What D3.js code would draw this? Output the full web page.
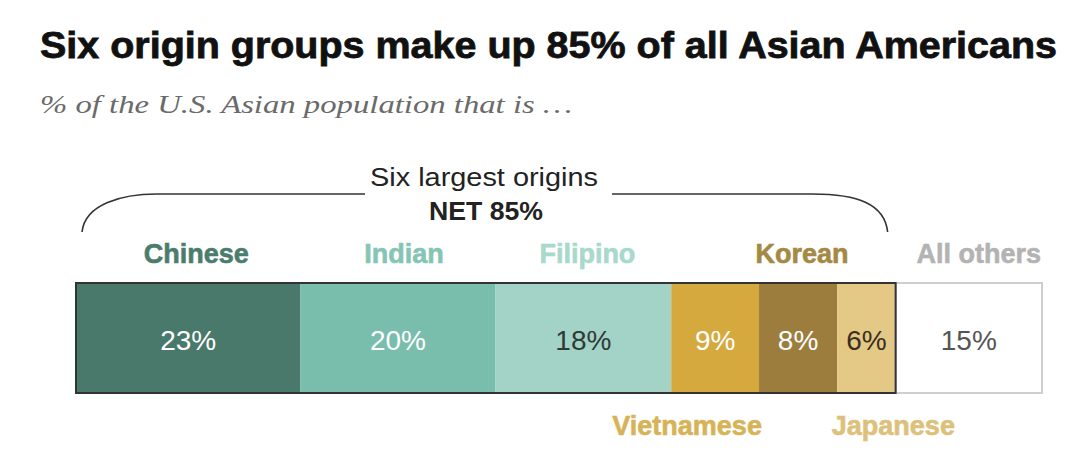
<!DOCTYPE html>
<html><head><meta charset="utf-8">
<script src="https://cdn.jsdelivr.net/npm/d3@7"></script>
<style>
html,body{margin:0;padding:0;background:#fff;}
svg{display:block;}
</style></head>
<body>
<svg id="chart" width="1080" height="469"></svg>
<script>
const categories = ["Chinese","Indian","Filipino","Vietnamese","Korean","Japanese","All others"];
const values = [23,20,18,9,8,6,15];
const labelPositions = ["top","top","top","bottom","top","bottom","top"];
const fills = ["#48796b","#79bdad","#a3d3c7","#d5a93e","#9c7d3d","#e3c886","#ffffff"];
const labelColors = ["#4b7c6d","#86c5b5","#a9d8cc","#d7b357","#a48943","#ddc17b","#b3b3b3"];
const valueColors = ["#ffffff","#ffffff","#2f3a36","#ffffff","#ffffff","#3a2f1c","#555555"];
const netLabel = "NET 85%";
const bracketLabel = "Six largest origins";
const title = "Six origin groups make up 85% of all Asian Americans";
const subtitle = "% of the U.S. Asian population that is \u2026";

const svg = d3.select("#chart");
const sans = "'Liberation Sans','Arial',sans-serif";

// title
svg.append("text").attr("x",40).attr("y",58)
  .style("font-family",sans).style("font-weight","bold").style("font-size","37px")
  .attr("fill","#111").attr("stroke","#111").attr("stroke-width",0.8).text(title)
  .attr("textLength",1017).attr("lengthAdjust","spacingAndGlyphs");

svg.append("text").attr("x",40).attr("y",113)
  .style("font-family","'Liberation Serif','DejaVu Serif',Georgia,serif").style("font-style","italic")
  .style("font-size","26px").attr("fill","#6a6a6a").text(subtitle)
  .attr("textLength",532).attr("lengthAdjust","spacingAndGlyphs");

const total = d3.sum(values);
const x = d3.scaleLinear().domain([0,total]).range([76,1042]);
const y0 = 283, y1 = 393;
const cum = d3.cumsum(values);
const data = categories.map((c,i)=>({cat:c,v:values[i],start:cum[i]-values[i],end:cum[i],i}));

// bars
svg.selectAll("rect.seg").data(data).join("rect").attr("class","seg")
  .attr("x",d=>x(d.start)).attr("y",y0)
  .attr("width",d=>x(d.end)-x(d.start)).attr("height",y1-y0)
  .attr("fill",(d)=>fills[d.i])
  .attr("stroke",d=>d.i===6?"#cfcfcf":"none").attr("stroke-width",2);

// outline of six groups
const sixEnd = cum[5];
svg.append("rect").attr("x",x(0)).attr("y",y0).attr("width",x(sixEnd)-x(0)).attr("height",y1-y0)
  .attr("fill","none").attr("stroke","#333").attr("stroke-width",2);

// value labels
svg.selectAll("text.val").data(data).join("text").attr("class","val")
  .attr("x",d=>(x(d.start)+x(d.end))/2).attr("y",350)
  .attr("text-anchor","middle")
  .style("font-family",sans).style("font-size","28px")
  .attr("fill",d=>valueColors[d.i]).text(d=>d.v+"%");

// category labels (hand-placed offsets from segment centre, as in the original)
const labelDx = {"Chinese":8,"Indian":6,"Filipino":4,"Vietnamese":-28,"Korean":4,"Japanese":27,"All others":10};
svg.selectAll("text.cat").data(data).join("text").attr("class","cat")
  .attr("x",d=>(x(d.start)+x(d.end))/2 + labelDx[d.cat])
  .attr("y",d=>labelPositions[d.i]==="top"?263:435)
  .attr("text-anchor","middle")
  .style("font-family",sans).style("font-weight","bold").style("font-size","27px")
  .attr("stroke",d=>labelColors[d.i]).attr("stroke-width",0.6)
  .attr("fill",d=>labelColors[d.i]).text(d=>d.cat);

// bracket
const bx0 = x(0)+6, bx1 = x(sixEnd)-8, by = 194, bBottom = 232;
const mid = 484;
svg.append("text").attr("x",mid).attr("y",186).attr("text-anchor","middle")
  .style("font-family",sans).style("font-size","26px").attr("fill","#222").text(bracketLabel)
  .attr("textLength",228).attr("lengthAdjust","spacingAndGlyphs");
svg.append("text").attr("x",mid+2).attr("y",220).attr("text-anchor","middle")
  .style("font-family",sans).style("font-weight","bold").style("font-size","25px").attr("fill","#222").text(netLabel)
  .attr("textLength",114).attr("lengthAdjust","spacingAndGlyphs");
const gapL = 365, gapR = 612;
const pL = d3.path();
pL.moveTo(bx0,bBottom);
pL.bezierCurveTo(bx0+3,by+10,bx0+40,by,bx0+75,by);
pL.lineTo(gapL,by);
const pR = d3.path();
pR.moveTo(gapR,by);
pR.lineTo(bx1-75,by);
pR.bezierCurveTo(bx1-30,by,bx1-3,by+10,bx1,bBottom);
svg.append("path").attr("d",pL.toString()).attr("fill","none").attr("stroke","#333").attr("stroke-width",1.6);
svg.append("path").attr("d",pR.toString()).attr("fill","none").attr("stroke","#333").attr("stroke-width",1.6);
</script>
</body></html>
